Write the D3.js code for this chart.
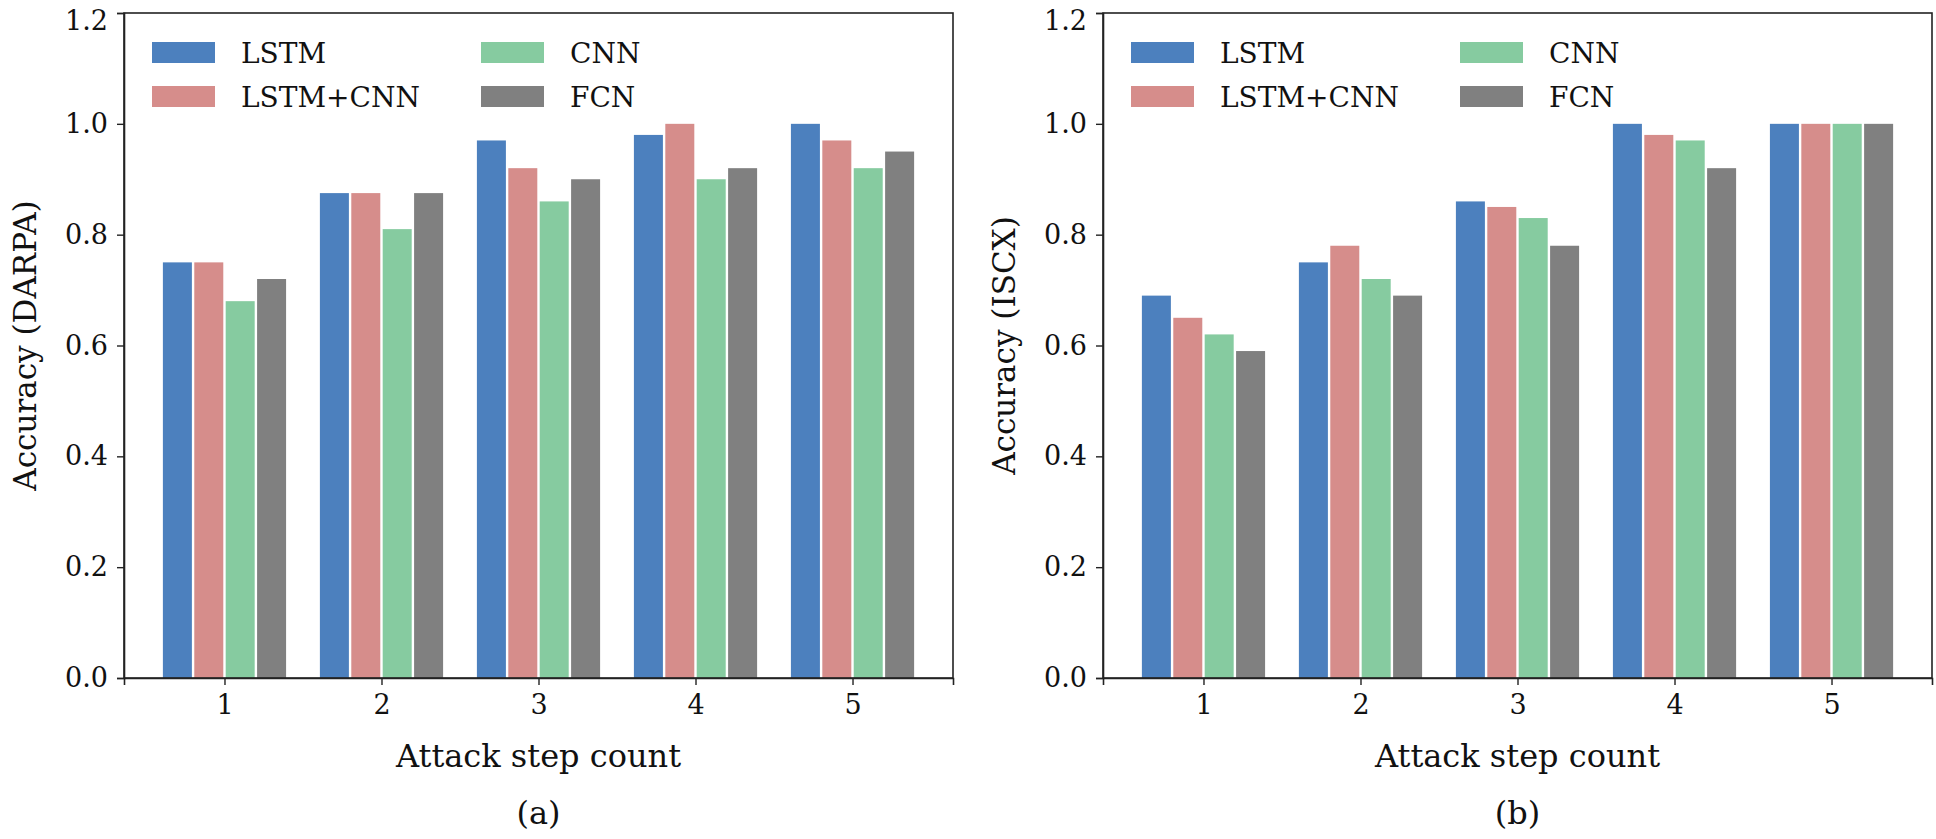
<!DOCTYPE html>
<html>
<head>
  <meta charset="utf-8">
  <title>Accuracy by attack step count</title>
  <script src="https://cdn.jsdelivr.net/npm/d3@7/dist/d3.min.js"></script>
  <style>
    body { margin: 0; background: #fff; }
    text { font-family: "DejaVu Serif", serif; fill: #111; }
    .domain, .tick line { stroke: #222; }
  </style>
</head>
<body>
<svg id="chart" width="1936" height="839"></svg>
<script>
  // data
  var steps = [1, 2, 3, 4, 5];
  var models = ['LSTM', 'LSTM+CNN', 'CNN', 'FCN'];
  var colors = ['#4c80be', '#d68d8b', '#86cba0', '#808080'];
  var yTicks = [0.0, 0.2, 0.4, 0.6, 0.8, 1.0, 1.2];

  var darpaLSTM = [0.75, 0.875, 0.97, 0.98, 1.0];
  var darpaLSTMCNN = [0.75, 0.875, 0.92, 1.0, 0.97];
  var darpaCNN = [0.68, 0.81, 0.86, 0.90, 0.92];
  var darpaFCN = [0.72, 0.875, 0.90, 0.92, 0.95];

  var iscxLSTM = [0.69, 0.75, 0.86, 1.0, 1.0];
  var iscxLSTMCNN = [0.65, 0.78, 0.85, 0.98, 1.0];
  var iscxCNN = [0.62, 0.72, 0.83, 0.97, 1.0];
  var iscxFCN = [0.59, 0.69, 0.78, 0.92, 1.0];

  var panels = [
    { left: 124, ylabel: 'Accuracy (DARPA)', caption: '(a)', series: [darpaLSTM, darpaLSTMCNN, darpaCNN, darpaFCN] },
    { left: 1103, ylabel: 'Accuracy (ISCX)', caption: '(b)', series: [iscxLSTM, iscxLSTMCNN, iscxCNN, iscxFCN] }
  ];

  var svg = d3.select('#chart');
  var plotTop = 13, width = 829, height = 665;
  var barW = 0.2;  // bar width in x units, offsets -0.3 .. 0.3

  panels.forEach(p => {
    var g = svg.append('g').attr('transform', `translate(${p.left},${plotTop})`);

    var x = d3.scaleLinear().domain([0.36, 5.64]).range([0, width]);
    var y = d3.scaleLinear().domain([0, 1.2]).range([height, 0]);

    // bars
    p.series.forEach((vals, i) => {
      var off = (i - 1.5) * barW;
      g.selectAll('.bar' + i)
        .data(vals)
        .enter()
        .append('rect')
        .attr('fill', colors[i])
        .attr('x', (d, j) => x(steps[j] + off - barW / 2) + 1.2)
        .attr('width', x(barW) - x(0) - 2.4)
        .attr('y', d => y(d))
        .attr('height', d => y(0) - y(d));
    });

    // frame
    g.append('rect')
      .attr('width', width).attr('height', height)
      .attr('fill', 'none').attr('stroke', '#222').attr('stroke-width', 1.6);

    // axes
    var xa = g.append('g').attr('transform', `translate(0,${height})`)
      .call(d3.axisBottom(x).tickValues(steps).tickFormat(d3.format('d')).tickSize(7).tickPadding(10));
    xa.selectAll('text').attr('font-size', 27).attr('font-family', 'DejaVu Serif');
    var ya = g.append('g')
      .call(d3.axisLeft(y).tickValues(yTicks).tickFormat(d3.format('.1f')).tickSize(7).tickPadding(9));
    ya.selectAll('text').attr('font-size', 27).attr('font-family', 'DejaVu Serif');
    // top label sits a little lower so it isn't clipped, as in the original
    ya.selectAll('.tick').filter(d => d === 1.2).select('text').attr('dy', '0.62em');
    g.selectAll('.domain').attr('stroke-width', 1.6);
    g.selectAll('.tick line').attr('stroke-width', 1.4);

    // axis titles
    g.append('text')
      .attr('x', width / 2).attr('y', 767 - plotTop)
      .attr('text-anchor', 'middle').attr('font-size', 32)
      .text('Attack step count');
    g.append('text')
      .attr('x', width / 2).attr('y', 824 - plotTop)
      .attr('text-anchor', 'middle').attr('font-size', 32)
      .text(p.caption);
    g.append('text')
      .attr('transform', `translate(-88,${height / 2}) rotate(-90)`)
      .attr('text-anchor', 'middle').attr('font-size', 31)
      .text(p.ylabel);

    // legend, two columns
    var leg = g.selectAll('.leg')
      .data(models)
      .enter()
      .append('g')
      .attr('transform', (d, i) => `translate(${i < 2 ? 28 : 357},${29 + (i % 2) * 44})`);
    leg.append('rect')
      .attr('width', 63).attr('height', 21)
      .attr('fill', (d, i) => colors[i]);
    leg.append('text')
      .attr('x', 89).attr('y', 21)
      .attr('font-size', 28)
      .text(d => d);
  });
</script>
</body>
</html>
